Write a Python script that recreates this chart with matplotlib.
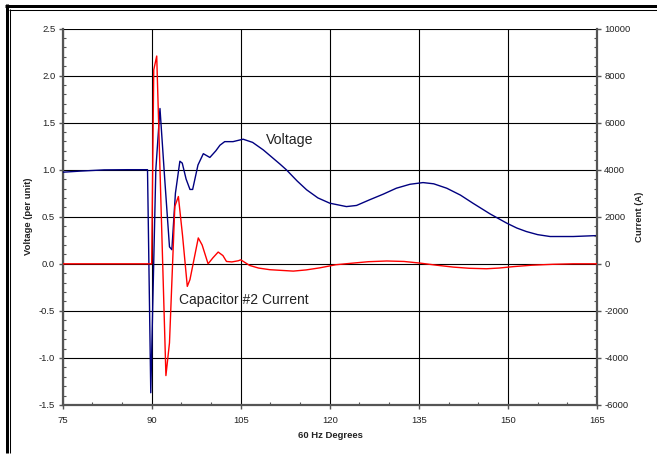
import matplotlib
matplotlib.use("Agg")
import matplotlib.pyplot as plt
from matplotlib.lines import Line2D
from matplotlib.ticker import MultipleLocator

plt.rcParams['font.family'] = ['Liberation Sans', 'DejaVu Sans']

# ---- data ----
volt_deg = [75.0, 78.0, 82.0, 86.0, 89.3, 89.85, 90.7, 91.4, 92.2, 93.0, 93.4,
            94.0, 94.75, 95.15, 95.8, 96.45, 96.9, 97.8, 98.7, 99.8, 100.8,
            101.5, 102.3, 103.7, 105.4, 107.0, 108.8, 111.6, 112.7, 114.5,
            116.1, 118.0, 120.0, 122.8, 124.5, 126.7, 129.0, 131.2, 133.5,
            135.7, 137.5, 139.7, 142.0, 144.1, 147.0, 149.8, 151.5, 153.1,
            155.0, 157.1, 161.0, 165.0]
volt_pu = [0.973, 0.985, 0.998, 1.0, 1.0, -1.37, 1.0, 1.65, 0.9, 0.18, 0.15,
           0.75, 1.09, 1.07, 0.9, 0.79, 0.79, 1.05, 1.17, 1.13, 1.2,
           1.26, 1.298, 1.298, 1.324, 1.29, 1.21, 1.06, 0.998, 0.88,
           0.786, 0.70, 0.644, 0.608, 0.62, 0.68, 0.74, 0.803, 0.845,
           0.863, 0.85, 0.803, 0.73, 0.644, 0.53, 0.432, 0.38, 0.343,
           0.31, 0.29, 0.29, 0.30]

curr_deg = [75.0, 90.0, 90.35, 90.85, 92.4, 93.0, 93.9, 94.5, 95.2, 96.0,
            96.45, 97.85, 98.5, 99.5, 100.3, 101.2, 102.0, 102.6, 103.5,
            104.6, 105.0, 106.5, 108.0, 109.9, 113.85, 116.0, 118.35, 121.0,
            123.9, 126.5, 129.6, 132.5, 135.2, 138.0, 140.8, 143.5, 146.4,
            148.5, 150.9, 154.0, 157.6, 161.0, 165.0]
curr_amp = [0, 0, 8240, 8830, -4750, -3360, 2440, 2860, 1200, -960,
            -670, 1100, 800, 0, 250, 500, 350, 100, 80,
            130, 170, -70, -180, -250, -310, -260, -170, -40,
            30, 90, 120, 100, 30, -60, -140, -190, -210,
            -180, -120, -60, -20, 0, 0]

x_ticks = [75, 90, 105, 120, 135, 150, 165]
v_ticks = [-1.5, -1.0, -0.5, 0.0, 0.5, 1.0, 1.5, 2.0, 2.5]
i_ticks = [-6000, -4000, -2000, 0, 2000, 4000, 6000, 8000, 10000]

W, H = 657, 455
fig = plt.figure(figsize=(W / 100, H / 100), dpi=100)
ax = fig.add_axes([62.6 / W, 1 - 405 / H, (597 - 62.6) / W, (405 - 28.5) / H])
ax2 = ax.twinx()

spine_col = '#555555'
txt_col = '#222222'

ax.set_xlim(75, 165)
ax.set_ylim(-1.5, 2.5)
ax2.set_ylim(-6000, 10000)
ax.set_xticks(x_ticks)
ax.set_yticks(v_ticks)
ax2.set_yticks(i_ticks)
ax.set_xticklabels([str(t) for t in x_ticks])
ax.set_yticklabels([f"{t:.1f}" for t in v_ticks])
ax2.set_yticklabels([str(t) for t in i_ticks])
ax.xaxis.set_minor_locator(MultipleLocator(5))
ax.yaxis.set_minor_locator(MultipleLocator(0.1))
ax2.yaxis.set_minor_locator(MultipleLocator(400))

ax.grid(True, which='major', color='black', linewidth=0.8)
ax.set_axisbelow(True)

for a in (ax, ax2):
    for s in a.spines.values():
        s.set_visible(False)
ax.spines['left'].set_visible(True)
ax.spines['bottom'].set_visible(True)
ax2.spines['right'].set_visible(True)
for s in (ax.spines['left'], ax.spines['bottom'], ax2.spines['right']):
    s.set_color(spine_col)
    s.set_linewidth(1.6)

ax.tick_params(which='major', direction='out', length=3, width=1, color=spine_col,
               labelsize=6.8, labelcolor=txt_col)
ax.tick_params(axis='y', which='major', pad=2.3)
ax.tick_params(axis='x', which='major', pad=5)
ax.tick_params(which='minor', direction='in', length=2.5, width=0.8, color=spine_col)
ax2.tick_params(which='major', direction='out', length=3, width=1, color=spine_col,
                labelsize=6.8, labelcolor=txt_col, pad=2.2)
ax2.tick_params(which='minor', direction='in', length=2.5, width=0.8, color=spine_col)

ax.plot(volt_deg, volt_pu, color='#000080', linewidth=1.0, zorder=3)
ax2.plot(curr_deg, curr_amp, color='#ff0000', linewidth=1.0, zorder=3)

ax.text(109.2, 1.311, "Voltage", fontsize=10.2, ha='left', va='center', color=txt_col)
ax.text(94.6, -0.382, "Capacitor #2 Current", fontsize=10, ha='left', va='center',
        color=txt_col)

fig.text(28.3 / W, 1 - 216.7 / H, "Voltage (per unit)", rotation=90, fontsize=6.8,
         fontweight='bold', ha='center', va='center', color=txt_col)
fig.text(640 / W, 1 - 216.7 / H, "Current (A)", rotation=90, fontsize=6.8,
         fontweight='bold', ha='center', va='center', color=txt_col)
fig.text(330 / W, 1 - 435 / H, "60 Hz Degrees", fontsize=6.8, fontweight='bold',
         ha='center', va='center', color=txt_col)

# double frame (left and top edges)
def fl(x0, y0, x1, y1, lw):
    fig.add_artist(Line2D([x0 / W, x1 / W], [1 - y0 / H, 1 - y1 / H],
                          transform=fig.transFigure, color='black', linewidth=lw,
                          solid_capstyle='butt'))

fl(6.5, 4.3, 6.5, 453, 2.16)
fl(5.0, 5.8, W, 5.8, 2.16)
fl(9.6, 9.1, 9.6, 453, 0.75)
fl(9.1, 9.6, W, 9.6, 0.75)

fig.savefig("out.png", dpi=100)
